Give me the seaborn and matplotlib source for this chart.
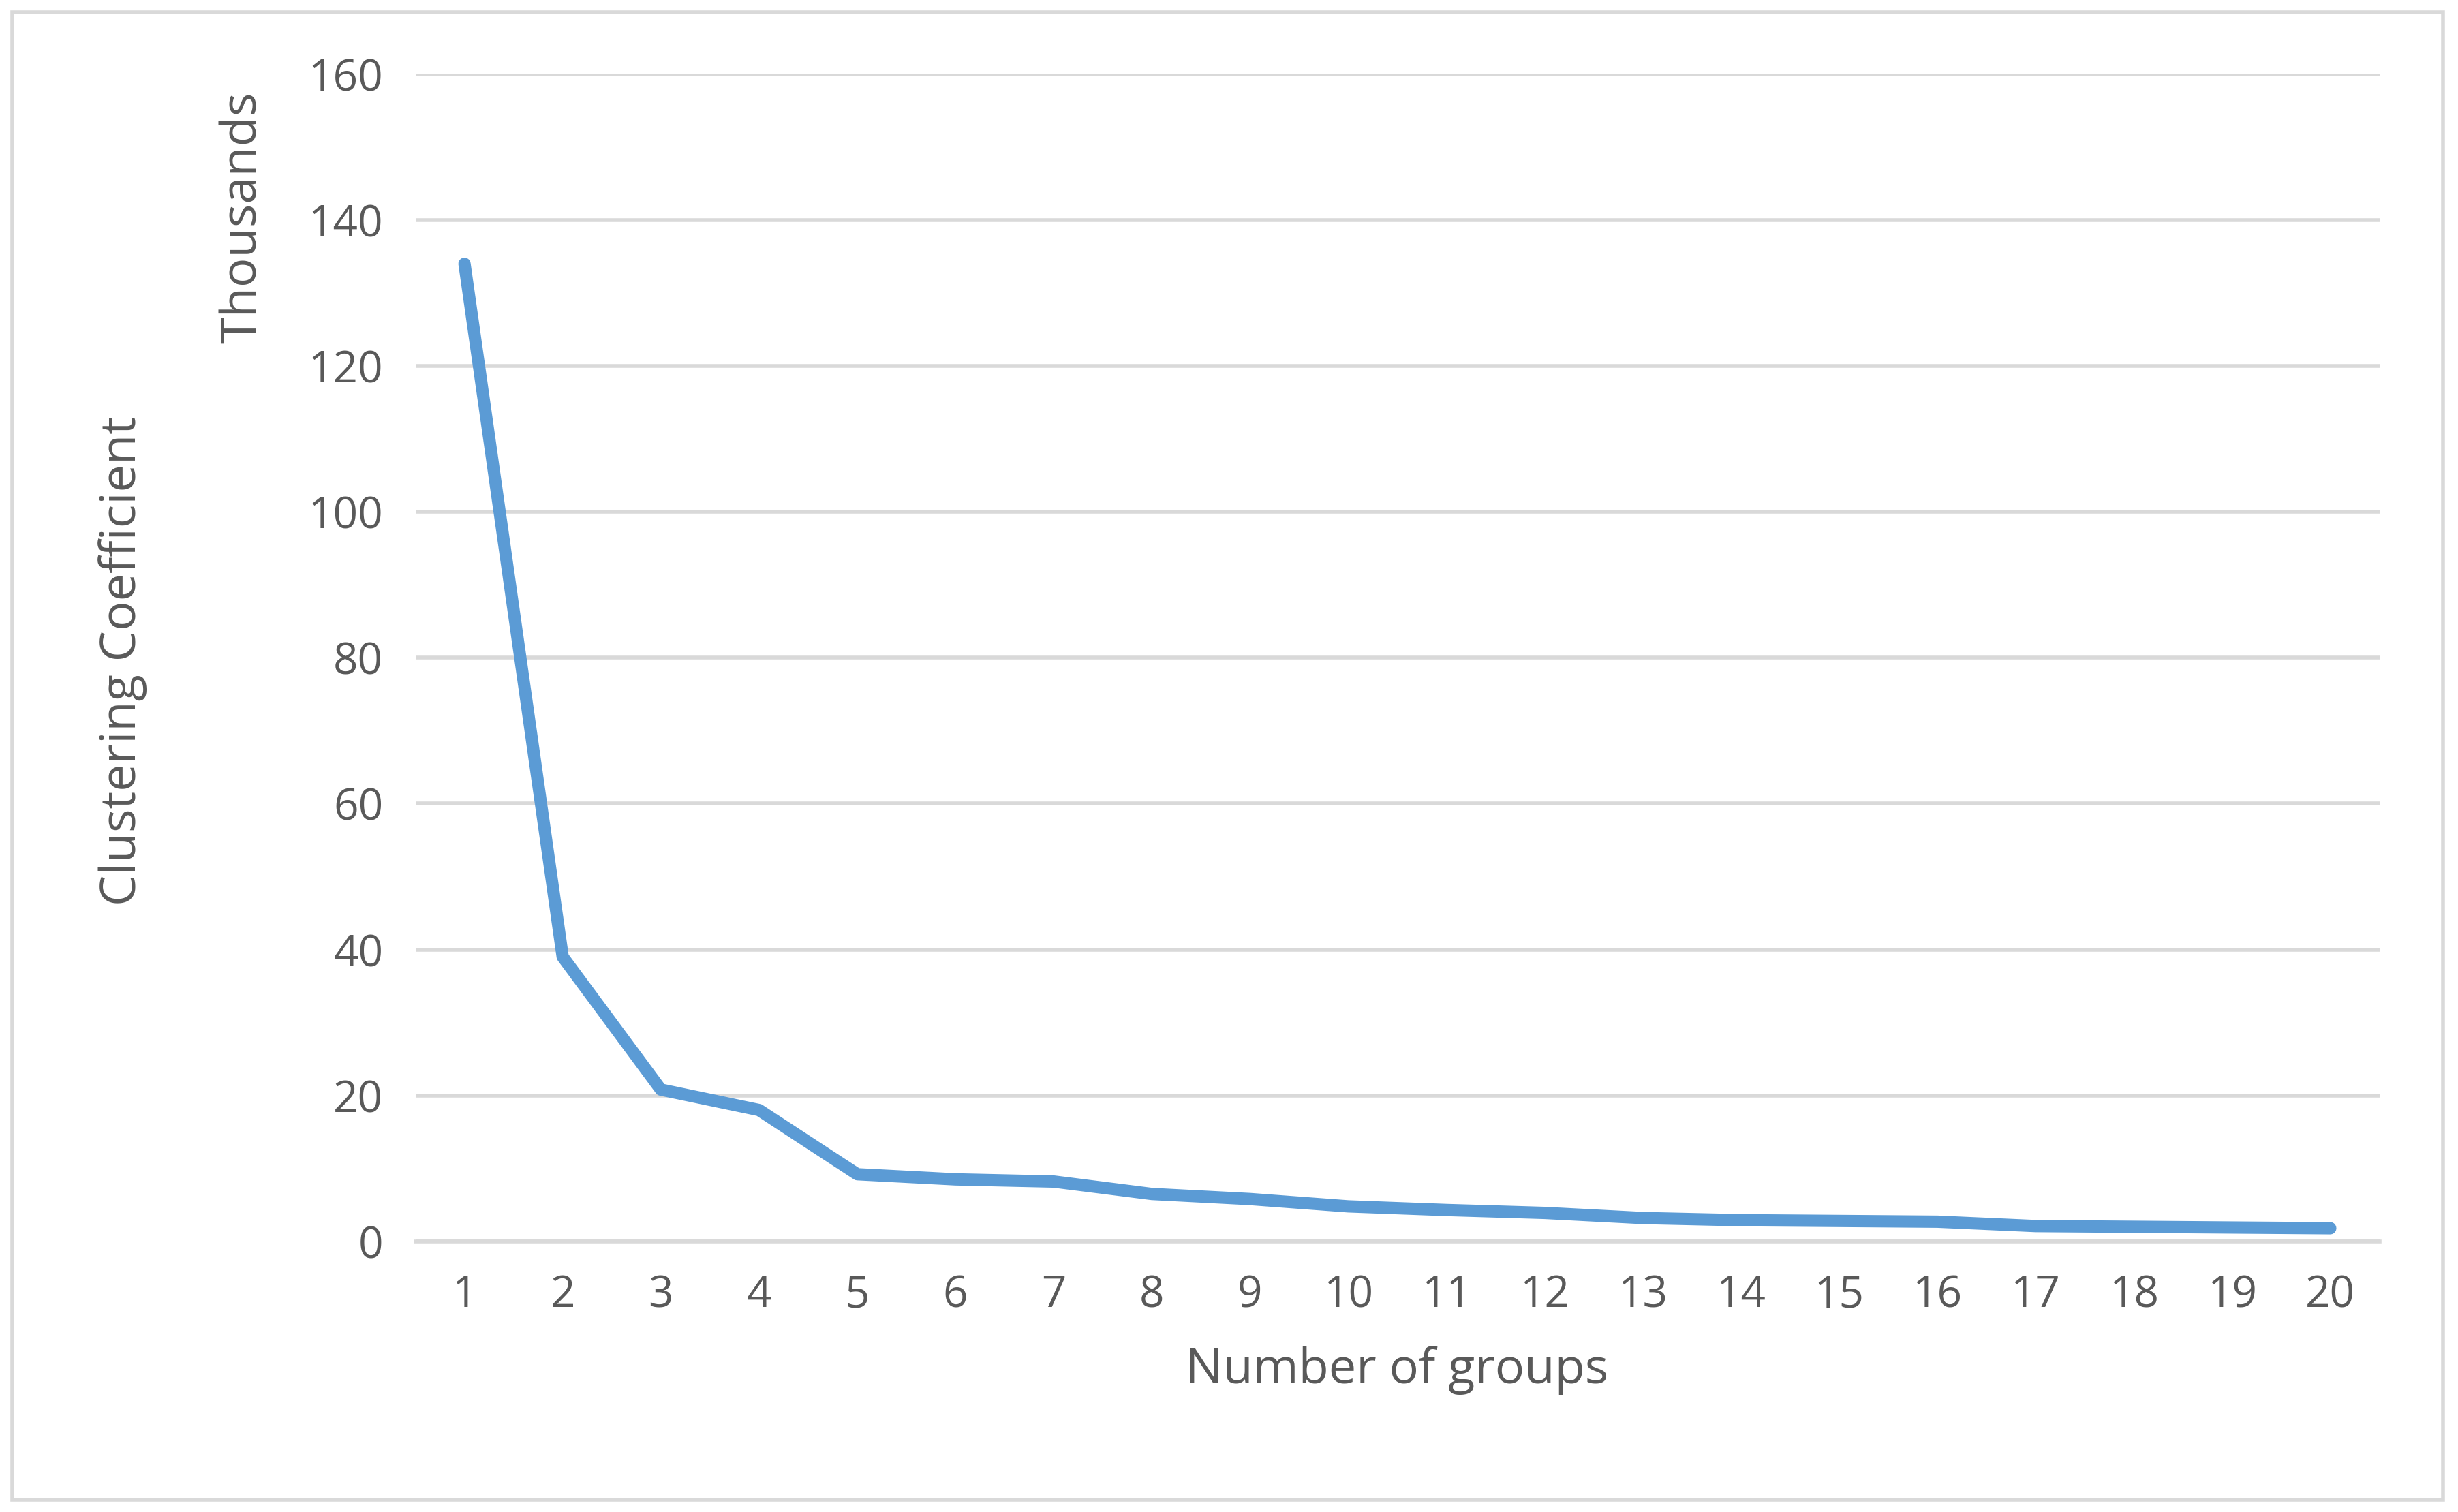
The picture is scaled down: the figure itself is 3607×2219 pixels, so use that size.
import numpy as np
import pandas as pd
import seaborn as sns
import matplotlib.pyplot as plt
from matplotlib.patches import Rectangle

# Values (y in thousands)
groups = list(range(1, 21))
coef_thousands = [134.0, 39.0, 20.8, 18.0, 9.2, 8.5, 8.2, 6.5, 5.8, 4.8,
                  4.3, 3.9, 3.2, 2.9, 2.8, 2.7, 2.1, 2.0, 1.9, 1.8]
y_ticks = [0, 20, 40, 60, 80, 100, 120, 140, 160]

df = pd.DataFrame({'Groups': groups, 'Coef': coef_thousands})

sns.set_theme(style='white')
plt.rcParams['font.family'] = ['Open Sans', 'DejaVu Sans']

text_col = '#595959'
grid_col = '#D9D9D9'

fig = plt.figure(figsize=(36.07, 22.19), dpi=100)
ax = fig.add_axes([0.169, 0.179, 0.799, 0.772])

sns.lineplot(data=df, x='Groups', y='Coef', ax=ax, color='#5B9BD5',
             linewidth=13, solid_capstyle='round', solid_joinstyle='round')

ax.set_xlim(0.5, 20.5)
ax.set_ylim(0, 160)
ax.set_xticks(groups)
ax.set_yticks(y_ticks)
ax.yaxis.grid(True, color=grid_col, linewidth=4)
ax.set_axisbelow(True)
for side in ['top', 'right', 'left']:
    ax.spines[side].set_visible(False)
ax.spines['bottom'].set_color(grid_col)
ax.spines['bottom'].set_linewidth(4)
ax.tick_params(axis='both', colors=text_col, labelsize=46, length=0, pad=34)

ax.set_xlabel('Number of groups', fontsize=52, color=text_col, labelpad=30)
ax.set_ylabel('')
fig.text(0.050, 0.563, 'Clustering Coefficient', rotation=90, fontsize=52,
         color=text_col, ha='center', va='center')
fig.text(0.099, 0.856, 'Thousands', rotation=90, fontsize=52,
         color=text_col, ha='center', va='center')

# light chart border
fig.patches.append(Rectangle((0.005, 0.008), 0.989, 0.984, transform=fig.transFigure,
                             fill=False, edgecolor=grid_col, linewidth=4))

fig.savefig('out.png', dpi=100)
